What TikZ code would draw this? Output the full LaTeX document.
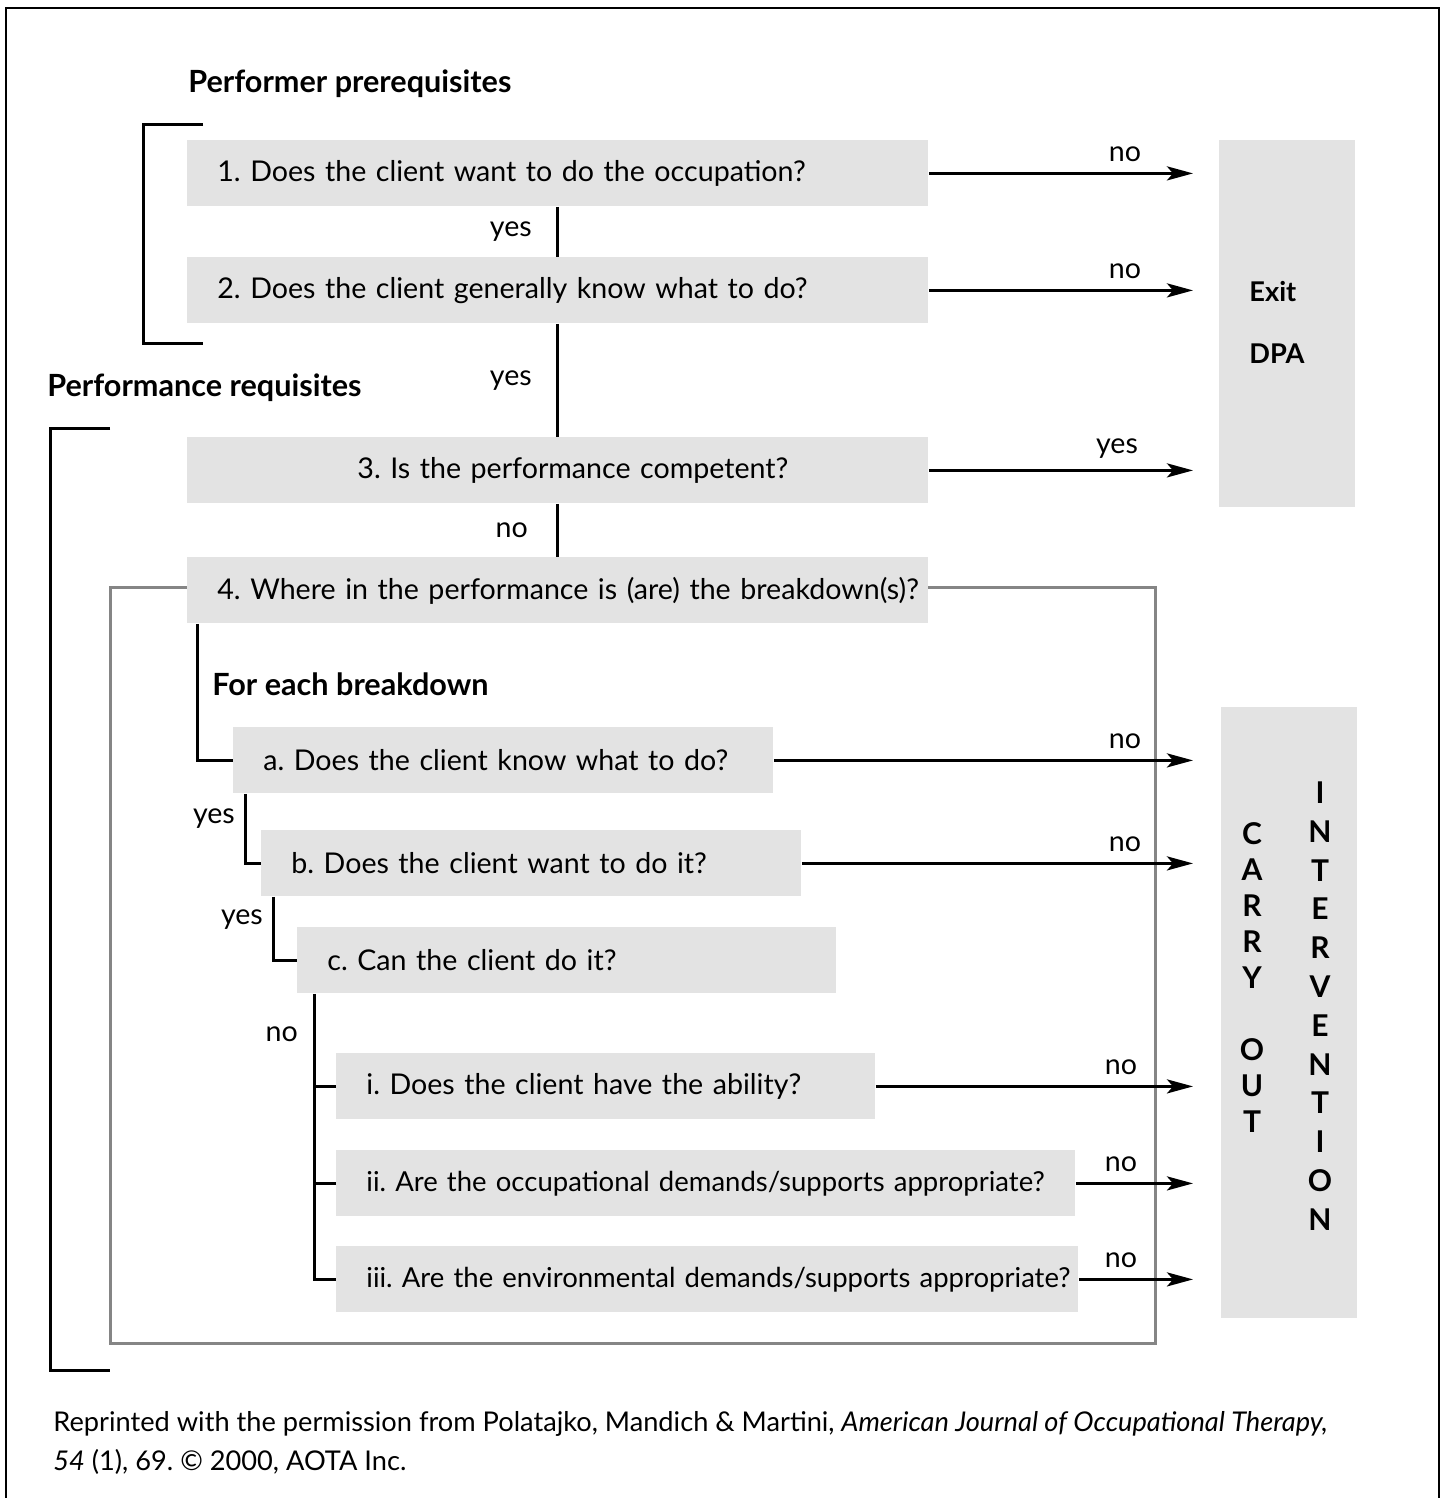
\documentclass[tikz,border=0pt]{standalone}
\usepackage{fontspec}
\setmainfont{Lato}
\usetikzlibrary{arrows.meta,positioning}
\definecolor{boxgray}{HTML}{E3E3E3}
\definecolor{framegray}{HTML}{858585}
\newcommand\qfont{\fontsize{14.3}{16}\selectfont}
\newcommand\qsmall{\fontsize{13.75}{16}\selectfont}
\newcommand\hfont{\fontsize{15.3}{18}\selectfont\bfseries}
\frenchspacing
\tikzset{
  qbox/.style={fill=boxgray, anchor=north west, minimum height=33pt, inner sep=0pt,
    text width=#1, align=left, font=\qfont, execute at begin node=\hspace*{15pt}},
  sidebox/.style={fill=boxgray, anchor=north west, minimum width=68pt, inner sep=0pt},
  conn/.style={line width=1.5pt},
  arr/.style={line width=1.5pt, -{Stealth[length=13pt,width=7pt,inset=3pt]}},
  lbl/.style={font=\qfont},
  head/.style={font=\hfont, anchor=west, inner sep=0pt},
  bracket/.style={line width=1.5pt}
}
\begin{document}
\begin{tikzpicture}[x=0.5pt,y=-0.5pt]
  \useasboundingbox (0,0) rectangle (1446,1498);
  % outer frame
  \draw[line width=1pt] (6,1498) -- (6,8) -- (1439,8) -- (1439,1498);

  % headings and brackets
  \node[head] (perfpre) at (188,84) {Performer prerequisites};
  \node[head] (perfreq) at (47,388) {Performance requisites};
  \draw[bracket] (203,125) -- (143,125) -- (143,343) -- (203,343);
  \draw[bracket] (110,428) -- (50,428) -- (50,1370) -- (110,1370);

  % breakdown frame
  \draw[line width=1.5pt, framegray] (110,587) rectangle (1155,1343);

  % questions
  \node[qbox=370.5pt] (q1) at (187,140) {1. Does the client want to do the occupation?};
  \node[qbox=370.5pt] (q2) at (187,257) {2. Does the client generally know what to do?};
  \node[qbox=370.5pt, align=center, execute at begin node={}] (q3) at (187,437) {3. Is the performance competent?};
  \node[qbox=370.5pt] (q4) at (187,557) {\mbox{4. Where in the performance is (are) the breakdown(s)?}};
  \node[head] (each) at (212,684) {For each breakdown};
  \node[qbox=270pt] (qa) at (233,727) {a. Does the client know what to do?};
  \node[qbox=270pt] (qb) at (261,830) {b. Does the client want to do it?};
  \node[qbox=269.5pt] (qc) at (297,927) {c. Can the client do it?};
  \node[qbox=269.5pt] (qi) at (336,1053) {i. Does the client have the ability?};
  \node[qbox=369.5pt, font=\qsmall] (qii) at (336,1150) {\mbox{ii. Are the occupational demands/supports appropriate?}};
  \node[qbox=371pt, font=\qsmall] (qiii) at (336,1246) {\mbox{iii. Are the environmental demands/supports appropriate?}};

  % outcome boxes
  \node[sidebox, minimum height=183.5pt] (exit) at (1219,140) {};
  \node[head, font=\fontsize{13.6}{16}\selectfont\bfseries] (exitlbl) at (1249,292) {Exit};
  \node[head, font=\fontsize{13.6}{16}\selectfont\bfseries] (dpalbl) at (1249,354) {DPA};
  \node[sidebox, minimum height=305.5pt] (carry) at (1221,707) {};
  \node[font=\fontsize{15}{18}\selectfont\bfseries, align=center, inner sep=0pt] (carrylbl) at (1252,978)
    {C\\A\\R\\R\\Y\\ \\O\\U\\T};
  \node[font=\fontsize{15}{19.4}\selectfont\bfseries, align=center, inner sep=0pt] (intlbl) at (1320,1006)
    {I\\N\\T\\E\\R\\V\\E\\N\\T\\I\\O\\N};
  \coordinate (exitin) at ([xshift=-13pt]exit.west);
  \coordinate (carryin) at ([xshift=-14pt]carry.west);

  % yes / no chain
  \draw[conn] (q1.south) -- (q2.north) node[lbl, midway, left=9pt] {yes};
  \draw[conn] (q2.south) -- (q3.north) node[lbl, midway, left=9pt] {yes};
  \draw[conn] (q3.south) -- (q4.north) node[lbl, midway, left=11pt] {no};
  \draw[conn] ([xshift=5pt]q4.south west) |- (qa.west);
  \draw[conn] ([xshift=6pt]qa.south west) |- (qb.west) node[lbl, pos=0.18, left=1pt] {yes};
  \draw[conn] ([xshift=6pt]qb.south west) |- (qc.west) node[lbl, pos=0.18, left=1pt] {yes};
  \coordinate (trunk) at ([xshift=8.5pt]qc.south west);
  \draw[conn] (trunk) |- (qiii.west) node[lbl, pos=0.07, left=4pt] {no};
  \draw[conn] (qi.west) -- (qi.west -| trunk);
  \draw[conn] (qii.west) -- (qii.west -| trunk);

  % exits
  \draw[arr] (q1.east) -- (q1.east -| exitin) node[lbl, pos=1, above=2pt, xshift=-34pt] {no};
  \draw[arr] (q2.east) -- (q2.east -| exitin) node[lbl, pos=1, above=2pt, xshift=-34pt] {no};
  \draw[arr] (q3.east) -- (q3.east -| exitin) node[lbl, pos=1, above=2pt, xshift=-38pt] {yes};
  \draw[arr] (qa.east) -- (qa.east -| carryin) node[lbl, pos=1, above=2pt, xshift=-34pt] {no};
  \draw[arr] (qb.east) -- (qb.east -| carryin) node[lbl, pos=1, above=2pt, xshift=-34pt] {no};
  \draw[arr] (qi.east) -- (qi.east -| carryin) node[lbl, pos=1, above=2pt, xshift=-36pt] {no};
  \draw[arr] (qii.east) -- (qii.east -| carryin) node[lbl, pos=1, above=2pt, xshift=-36pt] {no};
  \draw[arr] (qiii.east) -- (qiii.east -| carryin) node[lbl, pos=1, above=2pt, xshift=-36pt] {no};

  % source
  \node[anchor=west, inner sep=0pt, align=left, font=\fontsize{13.6}{19.5}\selectfont] (credit) at (53,1443)
    {Reprinted with the permission from Polatajko, Mandich \& Martini, \textit{American Journal of Occupational Therapy,}\\
     \textit{54} (1), 69. \textcopyright{} 2000, AOTA Inc.};
\end{tikzpicture}
\end{document}
